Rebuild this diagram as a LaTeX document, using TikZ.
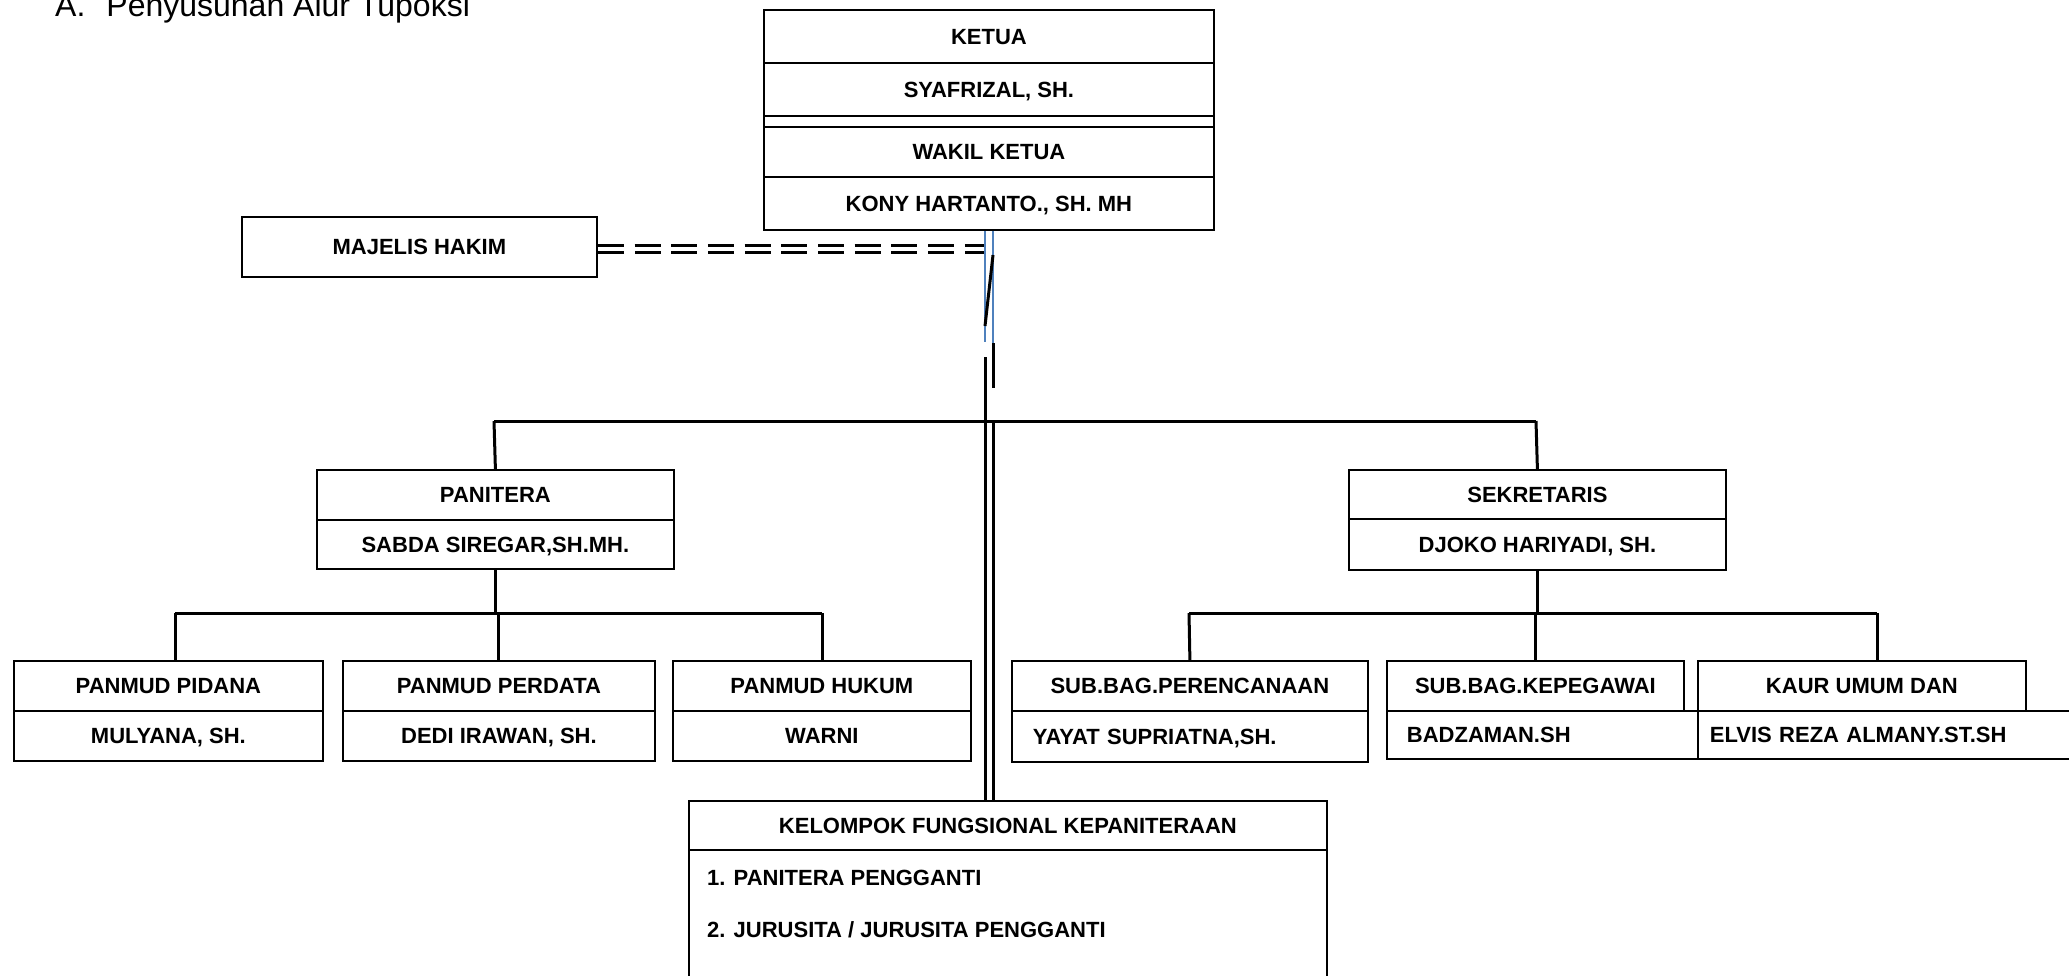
\documentclass[tikz,border=0pt]{standalone}
\usepackage{fontspec}
\setmainfont{Liberation Sans}
\definecolor{garisbiru}{RGB}{79,129,189}
\tikzset{
  org_box/.style = {draw=black, line width=1.8pt, rectangle, anchor=north west,
    inner sep=0pt, align=center, text height=15.8pt, text depth=0pt,
    font=\bfseries\fontsize{22}{26}\selectfont},% kotak jabatan
  left_box/.style = {org_box, align=left, inner xsep=20pt},% kotak nama, rata kiri
  item_text/.style = {anchor=west, inner sep=0pt, text height=15.8pt, text depth=0pt,
    font=\bfseries\fontsize{22}{26}\selectfont},% isi kelompok fungsional
  link/.style = {line width=3pt},% garis hubungan
  blue_link/.style = {draw=garisbiru, line width=1.3pt},% garis biru
  majelis_link/.style = {draw=black, line width=3pt, double=white,
    double distance=4pt, dash pattern=on 26pt off 10.7pt}% garis putus ganda
}
\begin{document}
\begin{tikzpicture}[x=1pt, y=-1pt]
  \useasboundingbox (0,0) rectangle (2069,975);
  \node[anchor=base west, inner sep=0pt, font=\fontsize{32}{38}\selectfont] (judul) at (55,16)
    {A.\hspace{21pt}Penyusunan Alur Tupoksi};

  % ketua dan wakil ketua
  \node[org_box, minimum width=450pt, minimum height=53pt] (ketua) at (763,9) {KETUA};
  \node[org_box, minimum width=450pt, minimum height=53pt] (ketua_nm) at (763,62) {SYAFRIZAL, SH.};
  \node[org_box, minimum width=450pt, minimum height=11pt, text height=0pt] (ketua_sela) at (763,115) {};
  \node[org_box, minimum width=450pt, minimum height=50pt] (wakil) at (763,126) {WAKIL KETUA};
  \node[org_box, minimum width=450pt, minimum height=53pt] (wakil_nm) at (763,176) {KONY HARTANTO., SH. MH};

  \node[org_box, minimum width=355pt, minimum height=60pt] (majelis) at (241,216) {MAJELIS HAKIM};

  % kepaniteraan
  \node[org_box, minimum width=357pt, minimum height=50pt] (panitera) at (316,469) {PANITERA};
  \node[org_box, minimum width=357pt, minimum height=49pt] (panitera_nm) at (316,519) {SABDA SIREGAR,SH.MH.};
  \node[org_box, minimum width=309pt, minimum height=50pt] (pidana) at (13,660) {PANMUD PIDANA};
  \node[org_box, minimum width=309pt, minimum height=50pt] (pidana_nm) at (13,710) {MULYANA, SH.};
  \node[org_box, minimum width=312pt, minimum height=50pt] (perdata) at (342,660) {PANMUD PERDATA};
  \node[org_box, minimum width=312pt, minimum height=50pt] (perdata_nm) at (342,710) {DEDI IRAWAN, SH.};
  \node[org_box, minimum width=298pt, minimum height=50pt] (hukum) at (672,660) {PANMUD HUKUM};
  \node[org_box, minimum width=298pt, minimum height=50pt] (hukum_nm) at (672,710) {WARNI};

  % kesekretariatan
  \node[org_box, minimum width=377pt, minimum height=49pt] (sekretaris) at (1348,469) {SEKRETARIS};
  \node[org_box, minimum width=377pt, minimum height=51pt] (sekretaris_nm) at (1348,518) {DJOKO HARIYADI, SH.};
  \node[org_box, minimum width=356pt, minimum height=50pt] (perencanaan) at (1011,660) {SUB.BAG.PERENCANAAN};
  \node[left_box, text width=314pt, inner xsep=21pt, minimum height=51pt] (perencanaan_nm) at (1011,710) {YAYAT SUPRIATNA,SH.};
  \node[org_box, minimum width=297pt, minimum height=50pt] (kepegawai) at (1386,660) {SUB.BAG.KEPEGAWAI};
  \node[left_box, text width=271pt, minimum height=48pt] (kepegawai_nm) at (1386,710) {BADZAMAN.SH};
  \node[org_box, minimum width=328pt, minimum height=50pt] (kaur) at (1697,660) {KAUR UMUM DAN};
  \node[left_box, text width=376pt, inner xsep=12pt, minimum height=48pt] (kaur_nm) at (1697,710) {ELVIS REZA ALMANY.ST.SH};

  % kelompok fungsional
  \node[org_box, minimum width=638pt, minimum height=49pt] (kelompok) at (688,800) {KELOMPOK FUNGSIONAL KEPANITERAAN};
  \node[org_box, minimum width=638pt, minimum height=200pt, text height=0pt] (kelompok_isi) at (688,849) {};
  \node[item_text] (isi_satu) at (707,878) {1. PANITERA PENGGANTI};
  \node[item_text] (isi_dua) at (707,930) {2. JURUSITA / JURUSITA PENGGANTI};

  % titik bantu
  \coordinate (trunk_l) at (985,421);
  \coordinate (trunk_r) at (993,421);
  \coordinate (biru_l) at (985,342);
  \coordinate (biru_r) at (993,343);
  \coordinate (hitam_r) at (993,388);
  \coordinate (miring_a) at (993,255);
  \coordinate (miring_b) at (985,326);
  \coordinate (hitam_l) at (985,357);
  \coordinate (bar_l) at (494,421);
  \coordinate (bar_r) at (1536,421);
  \coordinate (pan_l) at (175,613);
  \coordinate (pan_r) at (822,613);
  \coordinate (sek_l) at (1189,613);
  \coordinate (sek_r) at (1877,613);

  % garis hubungan
  \draw[majelis_link] ([yshift=-2.5pt]majelis.east) -- ([yshift=-2.5pt]majelis.east -| trunk_l);
  \draw[blue_link] (wakil_nm.south -| trunk_l) -- (biru_l);
  \draw[blue_link] (wakil_nm.south -| trunk_r) -- (biru_r);
  \draw[link] (biru_r) -- (hitam_r);
  \draw[link] (miring_a) -- (miring_b);
  \draw[link] (hitam_l) -- (kelompok.north -| trunk_l);
  \draw[link] (trunk_r) -- (kelompok.north -| trunk_r);
  \draw[link] (bar_l) -- (bar_r);
  \draw[link] (bar_l) -- (panitera.north);
  \draw[link] (bar_r) -- (sekretaris.north);

  \draw[link] (panitera_nm.south) -- (panitera_nm.south |- pan_l);
  \draw[link] (pan_l) -- (pan_r);
  \draw[link] (pan_l) -- (pan_l |- pidana.north);
  \draw[link] (perdata.north |- pan_l) -- (perdata.north);
  \draw[link] (pan_r) -- (pan_r |- hukum.north);

  \draw[link] (sekretaris_nm.south) -- (sekretaris_nm.south |- sek_l);
  \draw[link] (sek_l) -- (sek_r);
  \draw[link] (sek_l) -- (perencanaan.north);
  \draw[link] (kepegawai.north |- sek_l) -- (kepegawai.north);
  \draw[link] (sek_r) -- (sek_r |- kaur.north);
\end{tikzpicture}
\end{document}
